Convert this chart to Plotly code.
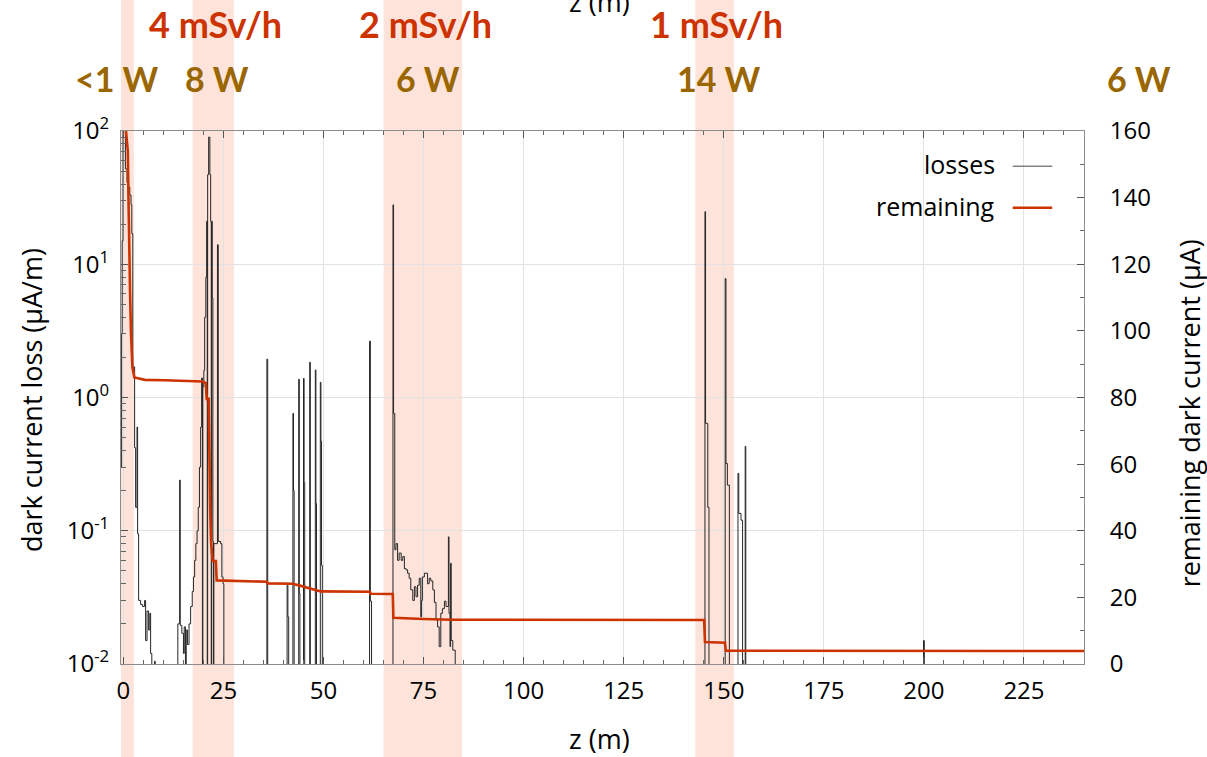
import numpy as np
import plotly.graph_objects as go

# ---------------- data ----------------
# dark-current loss per metre (step histogram: value holds from z to next z); 0 = no loss
loss_z = [-0.6, -0.45, -0.3, -0.1, 0.5, 0.9, 1.3, 1.6, 1.9, 2.1, 2.35, 2.8, 3.05, 3.4, 3.55, 3.8,
          4.3, 4.8, 5.3, 5.55, 5.9, 6.3, 6.6, 6.8, 7.1, 7.8, 7.95,
          13.6, 14.05, 14.2, 14.6, 15.0, 15.2, 15.5, 15.7, 16.0, 16.4, 16.8, 17.2, 17.5, 17.8,
          18.1, 18.4, 18.7, 19.0, 19.3, 19.55, 19.75, 19.85, 20.1, 20.3, 20.6, 20.8, 20.95,
          21.05, 21.3, 21.6, 21.8, 21.95, 22.05, 22.2, 22.35, 22.5, 22.6, 23.5, 23.7, 24.3,
          24.6, 24.9, 25.1,
          35.85, 36.05,
          40.9, 41.1, 41.3,
          42.35, 42.5, 42.65,
          43.8, 43.95, 44.1,
          45.0, 45.15, 45.3,
          46.55, 46.7,
          47.95, 48.1, 48.25,
          49.2, 49.35, 49.5, 49.7,
          61.5, 61.7, 62.0,
          67.35, 67.5, 67.8, 68.1, 68.5, 68.9, 69.4, 69.8, 70.2, 70.6, 71.0, 71.4, 71.8,
          72.3, 72.7, 73.1, 73.5, 73.9, 74.3, 74.5, 74.7, 75.2, 75.6, 76.0, 76.4, 76.8,
          77.3, 77.7, 78.1, 78.5, 78.9, 79.3, 79.7, 80.2, 80.6, 81.2, 81.35, 81.6, 81.75,
          81.9, 82.3, 82.9,
          145.3, 145.45, 146.0, 146.3,
          150.35, 150.55, 150.9, 151.4,
          153.55, 153.75, 154.3, 154.7,
          155.35, 155.5,
          199.9, 200.1, 240.0]
loss_val = [0.3, 3.0, 15, 150, 52, 41, 38, 33, 28, 17, 1.7, 0.42, 0.15, 0.6, 0.095, 0.03,
            0.028, 0.027, 0.03, 0.015, 0.025, 0.018, 0.024, 0.012, 0, 0.0105, 0,
            0.02, 0.24, 0.0195, 0.017, 0.012, 0.019, 0, 0.018, 0.014, 0.02, 0.027, 0.035, 0.045, 0.06,
            0.08, 0.1, 0.15, 0.3, 0.6, 1.4, 0, 1.2, 1.6, 4.0, 8.0, 21, 0,
            47, 90, 47, 21, 0, 21, 5.6, 0.083, 0, 0.08, 14, 0.083, 0.08,
            0.045, 0.04, 0,
            1.94, 0,
            0.039, 0.0226, 0,
            0.76, 0.2, 0,
            1.37, 0.034, 0,
            1.39, 0.23, 0,
            1.84, 0,
            1.61, 0.16, 0,
            1.3, 0.47, 0.055, 0,
            2.65, 0.0296, 0,
            27.9, 0.76, 0.072, 0.08, 0.06, 0.068, 0.06, 0.064, 0.052, 0.051, 0.048, 0.044, 0.036,
            0.030, 0.038, 0.032, 0.039, 0.044, 0.0226, 0.03, 0.045, 0.048, 0.048, 0.040, 0.044, 0.042,
            0.036, 0.029, 0.0214, 0.019, 0.0135, 0.024, 0.026, 0.0296, 0.027, 0.09, 0.024, 0.0135, 0.057,
            0.015, 0.0127, 0,
            24.8, 0.64, 0.15, 0,
            7.8, 0.32, 0.22, 0,
            0.27, 0.135, 0.12, 0,
            0.43, 0,
            0.015, 0, 0]

# remaining dark current (µA)
rem_z = [0.5, 1.1, 1.25, 1.4, 1.67, 1.9, 2.25, 2.75, 5.4, 10.4, 18.75, 19.75, 20.6, 20.8, 21.3,
         21.5, 21.7, 21.9, 22.3, 23.1, 23.3, 35.9, 36.0, 42.4, 42.7, 43.9, 45.1, 46.4, 48.0,
         49.3, 61.6, 61.8, 67.3, 67.45, 75.0, 82.0, 145.1, 145.3, 150.3, 150.5, 240.0]
rem_val = [162, 154, 141.5, 127, 111, 99.5, 89, 86, 85.3, 85.2, 85.0, 84.8, 84.3, 79.6, 79.6,
           57.6, 45, 36.6, 30.9, 30.9, 25.1, 24.7, 24.2, 24.1, 23.9, 23.6, 23.2, 22.7, 22.2,
           21.8, 21.7, 21.1, 21.0, 13.9, 13.5, 13.3, 13.2, 6.6, 6.4, 4.0, 3.9]

# shaded regions (z in m) and their labels
band_start = [-1.1, 17.3, 65.0, 142.9]
band_end = [2.6, 27.6, 84.6, 152.5]
dose_labels = ["4 mSv/h", "2 mSv/h", "1 mSv/h"]
dose_z = [23.0, 75.6, 148.3]
power_labels = ["<1 W", "8 W", "6 W", "14 W", "6 W"]
power_z = [-1.8, 23.3, 76.0, 148.8, 253.8]

x_range = [-0.6, 240]
x_ticks = [0, 25, 50, 75, 100, 125, 150, 175, 200, 225]
y_ticks = [0.01, 0.1, 1, 10, 100]
y_ticktext = ["10<sup>-2</sup>", "10<sup>-1</sup>", "10<sup>0</sup>", "10<sup>1</sup>", "10<sup>2</sup>"]

# ---------------- styling ----------------
FONT = "Open Sans"
LFONT = "Lato"
RED = "#cc3300"
GOLD = "#9a6600"
BAND = "#fde3da"
AX = "#8c8c8c"
GRID = "#e2e2e2"


def zpaper(z):
    # horizontal paper position of a z value (so labels outside the axis range still show)
    return (z - x_range[0]) / (x_range[1] - x_range[0])


loss_plot = np.where(np.array(loss_val, dtype=float) > 0, loss_val, 1e-4)
minor_log = [m * 10.0 ** e for e in range(-2, 2) for m in range(2, 10)]

fig = go.Figure()
fig.add_trace(go.Scatter(x=loss_z, y=loss_plot, mode="lines", line=dict(color="#262626", width=1, shape="hv"),
                         name="losses", showlegend=False, hoverinfo="skip"))
fig.add_trace(go.Scatter(x=rem_z, y=rem_val, mode="lines", line=dict(color=RED, width=2.6),
                         name="remaining", yaxis="y2", showlegend=False, hoverinfo="skip"))

for s, e in zip(band_start, band_end):
    fig.add_shape(type="rect", xref="x", yref="paper", x0=s, x1=e, y0=-0.3, y1=1.4,
                  fillcolor=BAND, line=dict(width=0), layer="below")

for t, z in zip(dose_labels, dose_z):
    fig.add_annotation(text=t, x=zpaper(z), xref="paper", y=1.2, yref="paper", showarrow=False,
                       xanchor="center", yanchor="middle",
                       font=dict(family=LFONT, size=36, color=RED, weight="bold"))
for t, z in zip(power_labels, power_z):
    fig.add_annotation(text=t, x=zpaper(z), xref="paper", y=1.099, yref="paper", showarrow=False,
                       xanchor="center", yanchor="middle",
                       font=dict(family=LFONT, size=34, color=GOLD, weight="bold"))

# axis titles
TF = dict(family=FONT, size=27, color="black")
fig.add_annotation(text="z (m)", x=0.497, y=-0.139, xref="paper", yref="paper", showarrow=False,
                   xanchor="center", yanchor="middle", font=TF)
fig.add_annotation(text="z (m)", x=0.497, y=1.243, xref="paper", yref="paper", showarrow=False,
                   xanchor="center", yanchor="middle", font=TF)
fig.add_annotation(text="dark current loss (µA/m)", x=-0.0935, y=0.495, xref="paper", yref="paper",
                   showarrow=False, textangle=-90, xanchor="center", yanchor="middle", font=TF)
fig.add_annotation(text="remaining dark current (µA)", x=1.1105, y=0.471, xref="paper", yref="paper",
                   showarrow=False, textangle=-90, xanchor="center", yanchor="middle", font=TF)

# legend (text right of which the line sample sits)
LF = dict(family=FONT, size=25, color="black")
fig.add_annotation(text="losses", x=0.9097, y=0.938, xref="paper", yref="paper", showarrow=False,
                   xanchor="right", yanchor="middle", font=LF)
fig.add_annotation(text="remaining", x=0.9097, y=0.860, xref="paper", yref="paper", showarrow=False,
                   xanchor="right", yanchor="middle", font=LF)
fig.add_shape(type="line", xref="paper", yref="paper", x0=0.926, x1=0.967, y0=0.934, y1=0.934,
              line=dict(color="#444444", width=1))
fig.add_shape(type="line", xref="paper", yref="paper", x0=0.926, x1=0.967, y0=0.856, y1=0.856,
              line=dict(color=RED, width=2.6))

fig.update_layout(
    width=1207, height=757,
    margin=dict(l=121, r=123, t=131, b=93),
    paper_bgcolor="white", plot_bgcolor="rgba(0,0,0,0)",
    font=dict(family=FONT, size=23, color="black"),
    xaxis=dict(range=x_range, tickmode="array", tickvals=x_ticks, ticks="inside", ticklen=7,
               tickcolor="#555", showline=True, linecolor=AX, linewidth=1, mirror="ticks",
               showgrid=True, gridcolor=GRID, gridwidth=1, zeroline=False,
               ticklabelstandoff=5, tickfont=dict(size=24),
               minor=dict(tickmode="linear", tick0=0, dtick=5, ticks="inside", ticklen=4,
                          tickcolor="#666", showgrid=False)),
    yaxis=dict(type="log", range=[-2, 2], tickmode="array", tickvals=y_ticks, ticktext=y_ticktext,
               ticks="inside", ticklen=7, tickcolor="#555", showline=True, linecolor=AX, linewidth=1,
               showgrid=True, gridcolor=GRID, gridwidth=1, zeroline=False, ticklabelstandoff=6,
               tickfont=dict(size=24),
               minor=dict(tickmode="array", tickvals=minor_log, ticks="inside", ticklen=5,
                          tickcolor="#666", showgrid=False)),
    yaxis2=dict(overlaying="y", side="right", range=[0, 160], tickmode="linear", tick0=0, dtick=20,
                ticks="inside", ticklen=7, tickcolor="#555", showline=True, linecolor=AX, linewidth=1,
                showgrid=False, zeroline=False, ticklabelstandoff=20, tickfont=dict(size=24),
                minor=dict(tickmode="linear", tick0=0, dtick=10, ticks="inside", ticklen=4,
                           tickcolor="#666", showgrid=False)),
)

fig.write_html("out.html")
